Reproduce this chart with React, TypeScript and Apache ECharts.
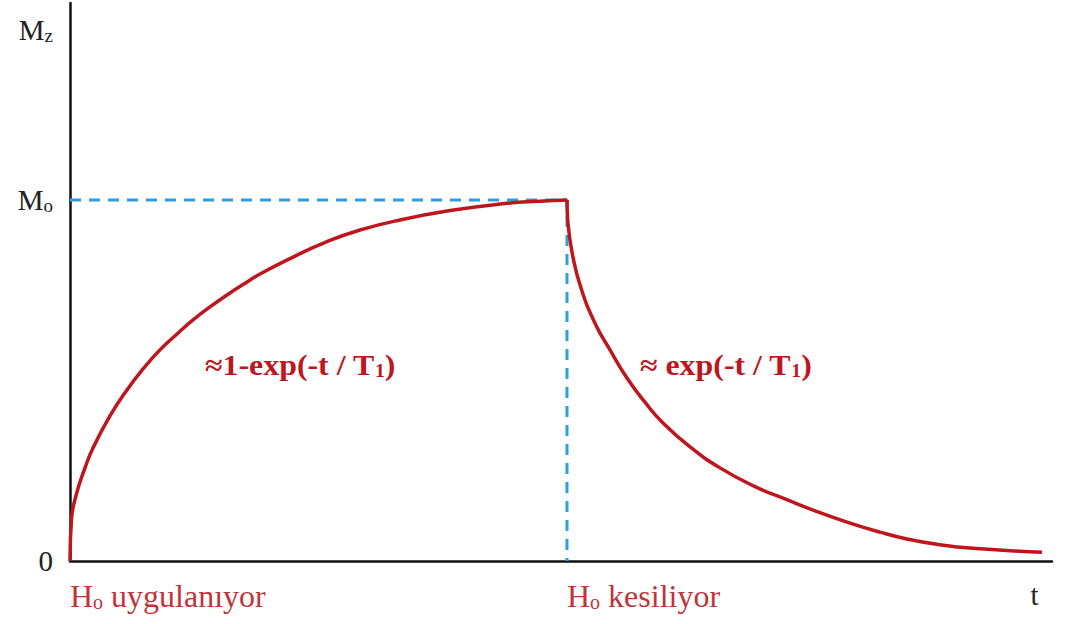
import React, { useEffect, useRef } from "react";
import * as echarts from "echarts";

// Rise curve (H_o applied): time vs Mz / Mo
const riseT = [0, 0.015, 0.066, 0.153, 0.234, 0.407, 0.58, 0.743, 0.916, 1.09, 1.253, 1.426, 1.599, 1.762, 1.935, 2.271, 2.617, 2.953, 3.36, 3.87, 4.379, 4.786, 5.061];
const riseM = [0, 0.114, 0.186, 0.258, 0.313, 0.402, 0.474, 0.532, 0.585, 0.629, 0.668, 0.704, 0.737, 0.766, 0.795, 0.842, 0.885, 0.917, 0.945, 0.971, 0.989, 0.997, 1.0];
// Decay curve (H_o removed)
const decayT = [5.061, 5.071, 5.122, 5.204, 5.346, 5.499, 5.672, 5.855, 6.029, 6.314, 6.619, 6.976, 7.281, 7.607, 7.943, 8.248, 8.523, 8.859, 9.195, 9.898];
const decayM = [1.0, 0.936, 0.842, 0.756, 0.659, 0.585, 0.507, 0.44, 0.385, 0.316, 0.258, 0.206, 0.172, 0.137, 0.105, 0.08, 0.061, 0.045, 0.035, 0.024];
// Dashed guide lines
const guideT = [0, 5.061, 5.061];
const guideM = [1, 1, 0];
// Tick labels
const yTickValues = [0, 1, 1.47];
const yTickLabels = ["{k|0}", "{k|M}{ks|o}", "{k|M}{ks|z}"];
const xTickValues = [0, 5.061, 9.78];
const xTickLabels = ["{r|H}{rs|o}{r| uygulanıyor}", "{r|H}{rs|o}{r| kesiliyor}", "{k|t}"];
const formulaRise = "{b|≈1-exp(-t / T}{bs|1}{b|)}";
const formulaDecay = "{b|≈ exp(-t / T}{bs|1}{b|)}";

const SERIF = "Liberation Serif";
const RED = "#bd161d";
const LABEL_RED = "#c0343a";
const BLUE = "#2f9ee0";

const pairs = (a: number[], b: number[]) => a.map((v, i) => [v, b[i]]);

export default function App() {
  const ref = useRef<HTMLDivElement>(null);
  useEffect(() => {
    if (!ref.current) return;
    const chart = echarts.init(ref.current, null, { renderer: "svg" });
    const labelRich = {
      k: { color: "#222", fontSize: 29, fontFamily: SERIF },
      ks: { color: "#222", fontSize: 19, fontFamily: SERIF, verticalAlign: "bottom", lineHeight: 14 },
      r: { color: LABEL_RED, fontSize: 32, fontFamily: SERIF },
      rs: { color: LABEL_RED, fontSize: 20, fontFamily: SERIF, verticalAlign: "bottom", lineHeight: 15 },
    };
    const formulaRich = {
      b: { fill: RED, fontSize: 29, fontWeight: "bold", fontFamily: SERIF },
      bs: { fill: RED, fontSize: 18, fontWeight: "bold", fontFamily: SERIF, verticalAlign: "bottom", lineHeight: 17 },
    };
    chart.setOption({
      animation: false,
      backgroundColor: "#ffffff",
      grid: { left: 70, top: 3, right: 25, bottom: 63, containLabel: false },
      xAxis: {
        type: "value",
        min: 0,
        max: 10,
        axisLine: { show: true, lineStyle: { color: "#111", width: 2.5 } },
        axisTick: { show: false },
        splitLine: { show: false },
        axisLabel: {
          customValues: xTickValues,
          align: "left",
          margin: 19,
          fontFamily: SERIF,
          formatter: (v: number) => {
            const i = xTickValues.findIndex((x) => Math.abs(x - v) < 1e-6);
            return i >= 0 ? xTickLabels[i] : "";
          },
          rich: labelRich,
        },
      },
      yAxis: {
        type: "value",
        min: 0,
        max: 1.546,
        axisLine: { show: true, lineStyle: { color: "#111", width: 2.5 } },
        axisTick: { show: false },
        splitLine: { show: false },
        axisLabel: {
          customValues: yTickValues,
          margin: 17,
          fontFamily: SERIF,
          formatter: (v: number) => {
            const i = yTickValues.findIndex((x) => Math.abs(x - v) < 1e-6);
            return i >= 0 ? yTickLabels[i] : "";
          },
          rich: labelRich,
        },
      },
      series: [
        {
          type: "line",
          data: pairs(guideT, guideM),
          symbol: "none",
          lineStyle: { color: BLUE, width: 3, type: [11, 8] },
          z: 1,
        },
        {
          type: "line",
          data: pairs(riseT, riseM),
          symbol: "none",
          smooth: 0.5,
          lineStyle: { color: RED, width: 3.5 },
          z: 2,
        },
        {
          type: "line",
          data: pairs(decayT, decayM),
          symbol: "none",
          smooth: 0.5,
          lineStyle: { color: RED, width: 3.5 },
          z: 2,
        },
      ],
      graphic: [
        {
          type: "text",
          x: 205,
          y: 351,
          scaleX: 1.1,
          style: { text: formulaRise, fill: RED, fontFamily: SERIF, fontWeight: "bold", fontSize: 29, rich: formulaRich },
        },
        {
          type: "text",
          x: 640,
          y: 351,
          scaleX: 1.1,
          style: { text: formulaDecay, fill: RED, fontFamily: SERIF, fontWeight: "bold", fontSize: 29, rich: formulaRich },
        },
      ],
    });
    return () => chart.dispose();
  }, []);
  return <div ref={ref} style={{ position: "fixed", left: 0, top: 0, width: 1077, height: 624 }} />;
}
